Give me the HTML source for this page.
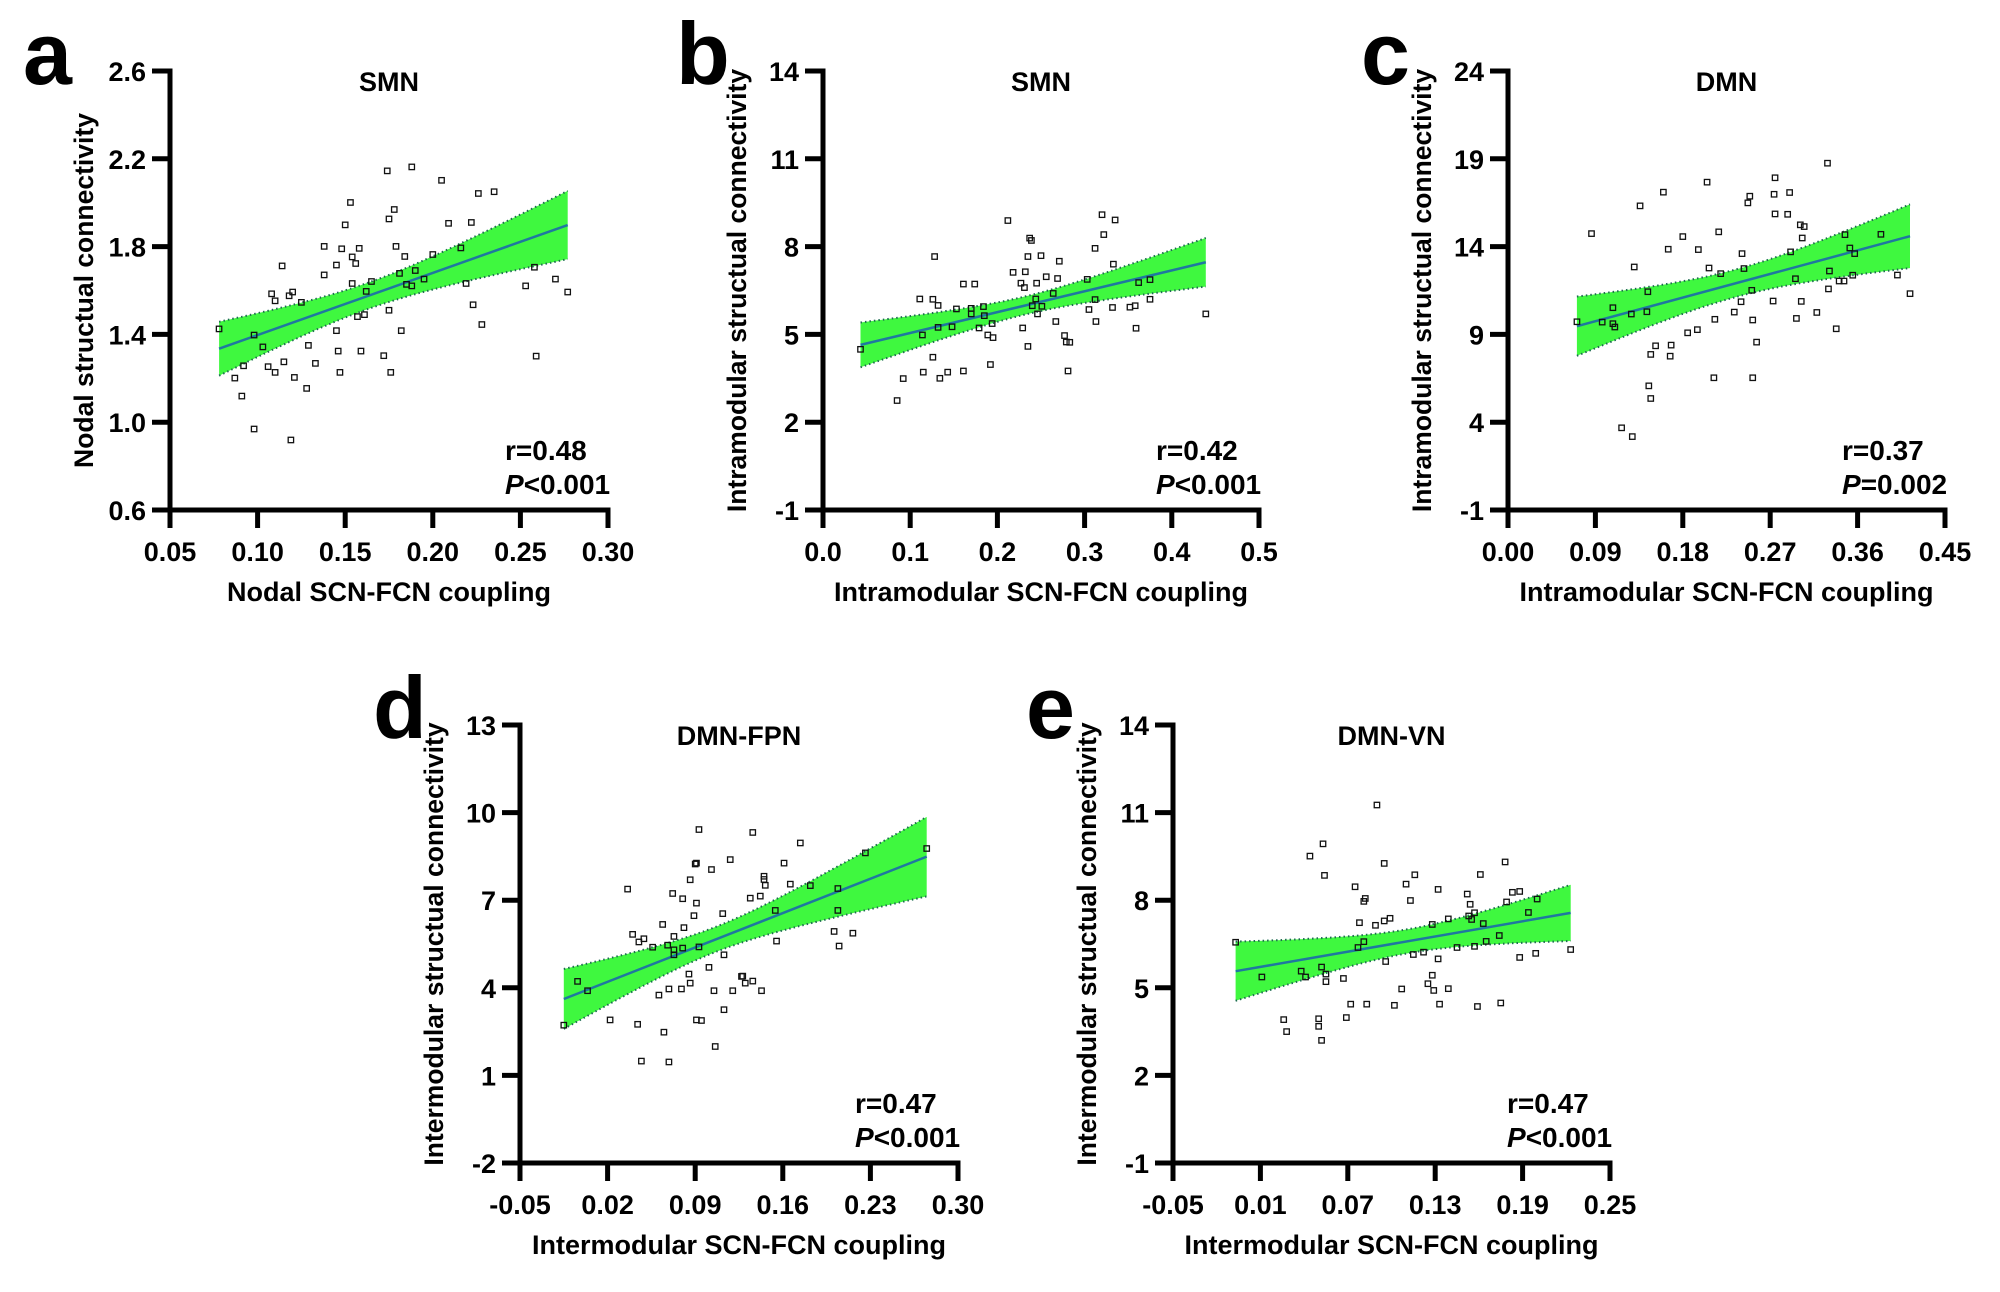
<!DOCTYPE html>
<html><head><meta charset="utf-8"><style>
html,body{margin:0;padding:0;background:#fff;}
svg{display:block;font-family:"Liberation Sans",Arial,sans-serif;font-weight:bold;}
</style></head><body>
<svg id="fig" width="2000" height="1292" viewBox="0 0 2000 1292" xmlns="http://www.w3.org/2000/svg"></svg>
<script>
// ---- Panel a data ----
const aX=[0.078,0.098,0.103,0.087,0.092,0.091,0.098,0.106,0.110,0.115,0.121,0.128,0.119,0.108,0.110,0.114,0.118,0.120,0.125,0.129,0.133,0.138,0.138,0.145,0.145,0.146,0.147,0.148,0.150,0.153,0.154,0.154,0.156,0.157,0.158,0.159,0.161,0.162,0.165,0.172,0.174,0.175,0.175,0.176,0.178,0.179,0.181,0.182,0.184,0.185,0.188,0.188,0.190,0.195,0.200,0.205,0.209,0.216,0.219,0.222,0.223,0.226,0.228,0.235,0.253,0.258,0.259,0.270,0.277];
const aY=[1.425,1.397,1.343,1.201,1.257,1.119,0.969,1.253,1.227,1.275,1.204,1.154,0.919,1.585,1.553,1.712,1.576,1.593,1.546,1.350,1.268,1.671,1.801,1.716,1.417,1.324,1.227,1.790,1.899,2.001,1.753,1.632,1.723,1.481,1.792,1.324,1.490,1.596,1.641,1.303,2.145,1.926,1.510,1.227,1.969,1.801,1.678,1.417,1.755,1.628,1.621,2.163,1.691,1.652,1.764,2.102,1.906,1.794,1.632,1.910,1.535,2.042,1.445,2.050,1.621,1.706,1.301,1.652,1.593];
const aXTicks=["0.05","0.10","0.15","0.20","0.25","0.30"];
const aYTicks=["0.6","1.0","1.4","1.8","2.2","2.6"];
// ---- Panel b data ----
const bX=[0.043,0.085,0.092,0.111,0.114,0.115,0.126,0.126,0.128,0.132,0.132,0.134,0.143,0.148,0.153,0.161,0.161,0.170,0.170,0.174,0.179,0.184,0.185,0.189,0.192,0.194,0.195,0.212,0.218,0.227,0.229,0.231,0.232,0.235,0.235,0.237,0.239,0.240,0.244,0.245,0.246,0.250,0.251,0.256,0.264,0.267,0.269,0.271,0.277,0.279,0.281,0.283,0.303,0.305,0.312,0.312,0.313,0.320,0.322,0.332,0.333,0.335,0.352,0.358,0.359,0.362,0.375,0.375,0.439];
const bY=[4.49,2.74,3.49,6.21,4.98,3.71,6.20,4.22,7.66,5.99,5.24,3.50,3.71,5.26,5.87,6.72,3.75,5.89,5.70,6.72,5.22,5.95,5.64,4.98,3.97,5.37,4.89,8.89,7.12,6.75,5.22,6.60,7.14,4.59,7.66,8.29,8.21,5.98,6.21,6.75,5.70,7.69,5.96,6.97,6.40,5.44,6.91,7.50,4.96,4.74,3.75,4.73,6.88,5.85,6.19,7.94,5.44,9.09,8.41,5.92,7.40,8.91,5.93,5.98,5.21,6.77,6.87,6.20,5.70];
const bXTicks=["0.0","0.1","0.2","0.3","0.4","0.5"];
const bYTicks=["-1","2","5","8","11","14"];
// ---- Panel c data ----
const cX=[0.071,0.086,0.097,0.108,0.108,0.110,0.117,0.127,0.128,0.130,0.136,0.143,0.144,0.145,0.147,0.147,0.152,0.160,0.165,0.167,0.168,0.180,0.185,0.195,0.196,0.205,0.207,0.212,0.213,0.217,0.219,0.233,0.240,0.241,0.243,0.247,0.249,0.251,0.252,0.252,0.256,0.273,0.274,0.275,0.275,0.288,0.290,0.291,0.296,0.297,0.301,0.302,0.303,0.305,0.318,0.329,0.330,0.331,0.338,0.341,0.346,0.347,0.352,0.355,0.357,0.384,0.401,0.414];
const cY=[9.72,14.74,9.70,9.61,10.52,9.42,3.68,10.16,3.18,12.84,16.32,10.29,11.43,6.07,5.35,7.86,8.35,17.10,13.85,7.76,8.39,14.57,9.09,9.27,13.83,17.67,12.78,6.53,9.86,14.84,12.46,10.27,10.86,13.60,12.75,16.49,16.87,11.51,6.53,9.82,8.56,10.90,16.98,15.86,17.92,15.84,17.08,13.70,12.17,9.91,15.24,10.88,14.49,15.14,10.25,18.75,11.59,12.61,9.32,12.04,12.04,14.68,13.92,12.37,13.60,14.70,12.38,11.32];
const cXTicks=["0.00","0.09","0.18","0.27","0.36","0.45"];
const cYTicks=["-1","4","9","14","19","24"];
// ---- Panel d data ----
const dX=[-0.015,-0.004,0.004,0.022,0.036,0.040,0.044,0.045,0.047,0.049,0.056,0.061,0.064,0.065,0.068,0.069,0.069,0.072,0.073,0.073,0.073,0.079,0.080,0.080,0.081,0.085,0.086,0.086,0.089,0.090,0.091,0.091,0.091,0.093,0.093,0.095,0.101,0.103,0.105,0.106,0.112,0.113,0.113,0.118,0.120,0.127,0.128,0.130,0.134,0.136,0.136,0.142,0.143,0.145,0.145,0.146,0.154,0.155,0.161,0.166,0.174,0.182,0.201,0.204,0.204,0.205,0.216,0.226,0.275];
const dY=[2.72,4.22,3.90,2.90,7.38,5.83,2.75,5.57,1.49,5.68,5.39,3.75,6.17,2.48,5.46,1.46,3.96,7.23,5.76,5.30,5.13,3.96,7.05,5.36,6.06,4.47,4.16,7.70,6.47,8.24,8.27,6.90,2.90,9.42,5.40,2.88,4.70,8.05,3.90,1.99,6.54,5.13,3.25,8.39,3.90,4.39,4.40,4.16,7.07,4.23,9.32,7.14,3.90,7.71,7.82,7.51,6.65,5.60,8.27,7.55,8.96,7.50,5.93,7.40,6.65,5.43,5.87,8.62,8.77];
const dXTicks=["-0.05","0.02","0.09","0.16","0.23","0.30"];
const dYTicks=["-2","1","4","7","10","13"];
// ---- Panel e data ----
const eX=[-0.007,0.011,0.026,0.028,0.038,0.041,0.044,0.050,0.050,0.052,0.052,0.053,0.054,0.055,0.055,0.067,0.069,0.072,0.075,0.077,0.078,0.081,0.081,0.082,0.083,0.089,0.090,0.095,0.095,0.096,0.099,0.102,0.107,0.110,0.113,0.115,0.116,0.122,0.125,0.128,0.128,0.129,0.132,0.132,0.133,0.139,0.139,0.145,0.152,0.153,0.154,0.155,0.157,0.157,0.159,0.161,0.163,0.165,0.174,0.175,0.178,0.179,0.183,0.188,0.188,0.194,0.199,0.200,0.223];
const eY=[6.56,5.37,3.91,3.50,5.57,5.37,9.51,3.94,3.68,5.71,3.20,9.93,8.85,5.47,5.21,5.32,3.98,4.44,8.46,6.38,7.23,6.58,7.96,8.06,4.44,7.14,11.26,7.29,9.26,5.90,7.38,4.40,4.96,8.55,7.99,6.14,8.87,6.22,5.14,7.17,5.43,4.91,5.99,8.37,4.44,4.97,7.36,6.38,8.21,7.46,7.86,7.34,6.42,7.57,4.36,8.88,7.20,6.59,6.79,4.48,9.31,7.94,8.27,8.30,6.04,7.58,6.18,8.04,6.31];
const eXTicks=["-0.05","0.01","0.07","0.13","0.19","0.25"];
const eYTicks=["-1","2","5","8","11","14"];

const NS="http://www.w3.org/2000/svg";
const svg=document.getElementById('fig');
function mk(tag,attrs,parent){const e=document.createElementNS(NS,tag);for(const k in attrs)e.setAttribute(k,attrs[k]);(parent||svg).appendChild(e);return e;}

const panels=[
 {id:'a',x0:170,y0:71,x1:608,y1:510,xs:aX,ys:aY,xt:aXTicks,yt:aYTicks,title:'SMN',xl:'Nodal SCN-FCN coupling',yl:'Nodal structual connectivity',r:'r=0.48',p:'<0.001'},
 {id:'b',x0:823,y0:71,x1:1259,y1:510,xs:bX,ys:bY,xt:bXTicks,yt:bYTicks,title:'SMN',xl:'Intramodular SCN-FCN coupling',yl:'Intramodular structual connectivity',r:'r=0.42',p:'<0.001'},
 {id:'c',x0:1508,y0:71,x1:1945,y1:510,xs:cX,ys:cY,xt:cXTicks,yt:cYTicks,title:'DMN',xl:'Intramodular SCN-FCN coupling',yl:'Intramodular structual connectivity',r:'r=0.37',p:'=0.002'},
 {id:'d',x0:520,y0:725,x1:958,y1:1163,xs:dX,ys:dY,xt:dXTicks,yt:dYTicks,title:'DMN-FPN',xl:'Intermodular SCN-FCN coupling',yl:'Intermodular structual connectivity',r:'r=0.47',p:'<0.001'},
 {id:'e',x0:1173,y0:725,x1:1610,y1:1163,xs:eX,ys:eY,xt:eXTicks,yt:eYTicks,title:'DMN-VN',xl:'Intermodular SCN-FCN coupling',yl:'Intermodular structual connectivity',r:'r=0.47',p:'<0.001'}
];

panels.forEach(P=>{
  const g=mk('g',{});
  
  
  const xmin=parseFloat(P.xt[0]),xmax=parseFloat(P.xt[P.xt.length-1]);
  const ymin=parseFloat(P.yt[0]),ymax=parseFloat(P.yt[P.yt.length-1]);
  const sx=v=>P.x0+(v-xmin)/(xmax-xmin)*(P.x1-P.x0);
  const sy=v=>P.y1-(v-ymin)/(ymax-ymin)*(P.y1-P.y0);

  const n=P.xs.length;let mx=0,my=0;
  for(let i=0;i<n;i++){mx+=P.xs[i];my+=P.ys[i];}mx/=n;my/=n;
  let sxx=0,sxy=0;for(let i=0;i<n;i++){sxx+=(P.xs[i]-mx)**2;sxy+=(P.xs[i]-mx)*(P.ys[i]-my);}
  const b=sxy/sxx,a=my-b*mx;let sse=0;
  for(let i=0;i<n;i++)sse+=(P.ys[i]-a-b*P.xs[i])**2;
  const s=Math.sqrt(sse/(n-2)),t=1.996;
  const lo=Math.min(...P.xs),hi=Math.max(...P.xs);
  const up=[],dn=[];
  for(let k=0;k<=60;k++){const x=lo+(hi-lo)*k/60;const yh=a+b*x;const se=s*Math.sqrt(1/n+(x-mx)**2/sxx);
    up.push(sx(x).toFixed(1)+','+sy(yh+t*se).toFixed(1));dn.push(sx(x).toFixed(1)+','+sy(yh-t*se).toFixed(1));}
  const band=mk('polygon',{points:up.concat(dn.slice().reverse()).join(' '),fill:'#3ff83f',stroke:'none'},g);
  
  
  const ub=mk('polyline',{points:up.join(' '),fill:'none',stroke:'#1d6b50','stroke-width':2,'stroke-dasharray':'1.5 3'},g);
  
  
  const lb=mk('polyline',{points:dn.join(' '),fill:'none',stroke:'#1d6b50','stroke-width':2,'stroke-dasharray':'1.5 3'},g);
  
  
  const rl=mk('line',{x1:sx(lo),y1:sy(a+b*lo),x2:sx(hi),y2:sy(a+b*hi),stroke:'#1f78a0','stroke-width':2.5},g);
  
  

  for(let i=0;i<n;i++){
    const r=mk('rect',{x:sx(P.xs[i])-2.7,y:sy(P.ys[i])-2.7,width:5.4,height:5.4,fill:'none',stroke:'#111','stroke-width':1.3},g);
    
    
  }

  const ya=mk('line',{x1:P.x0,y1:P.y0-2.5,x2:P.x0,y2:P.y1+2.5,stroke:'#000','stroke-width':5},g);
  
  
  const xa=mk('line',{x1:P.x0-2.5,y1:P.y1,x2:P.x1+2.5,y2:P.y1,stroke:'#000','stroke-width':5},g);
  
  
  P.yt.forEach(lab=>{const y=sy(parseFloat(lab));
    mk('line',{x1:P.x0-18,y1:y,x2:P.x0,y2:y,stroke:'#000','stroke-width':5},g);
    const tx=mk('text',{x:P.x0-24,y:y+10,'font-size':27,'text-anchor':'end'},g);tx.textContent=lab;
    
    });
  P.xt.forEach(lab=>{const x=sx(parseFloat(lab));
    mk('line',{x1:x,y1:P.y1,x2:x,y2:P.y1+18,stroke:'#000','stroke-width':5},g);
    const tx=mk('text',{x:x,y:P.y1+51,'font-size':27,'text-anchor':'middle'},g);tx.textContent=lab;
    
    });

  const ti=mk('text',{x:(P.x0+P.x1)/2,y:P.y0+20,'font-size':27,'text-anchor':'middle'},g);ti.textContent=P.title;
  
  
  const xl=mk('text',{x:(P.x0+P.x1)/2,y:P.y1+91,'font-size':27,'text-anchor':'middle'},g);xl.textContent=P.xl;
  
  
  const cy=(P.y0+P.y1)/2,cx=P.x0-77;
  const yl=mk('text',{x:cx,y:cy,'font-size':26.5,'text-anchor':'middle',transform:`rotate(-90 ${cx} ${cy})`},g);yl.textContent=P.yl;
  
  
  const rt=mk('text',{x:P.x1-103,y:P.y1-50,'font-size':28},g);rt.textContent=P.r;
  
  
  const pt=mk('text',{x:P.x1-103,y:P.y1-16,'font-size':28},g);
  const it=mk('tspan',{'font-style':'italic'},pt);it.textContent='P';
  const rest=mk('tspan',{},pt);rest.textContent=P.p;
  
  
  const pl=mk('text',{x:P.x0-147,y:P.y0+13,'font-size':88},g);pl.textContent=P.id;
  
  
});
</script>
</body></html>
